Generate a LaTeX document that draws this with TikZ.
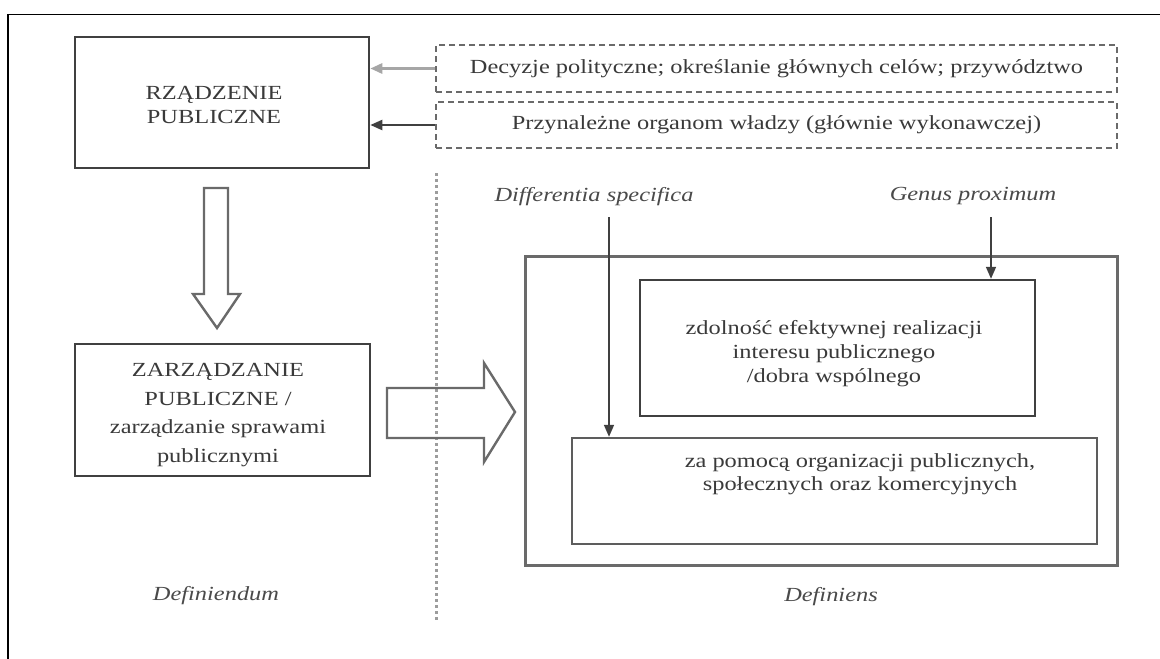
\documentclass[tikz,border=0pt]{standalone}
\usepackage{fontspec}
\setmainfont{Liberation Serif}[FakeStretch=1.22]
\usetikzlibrary{arrows.meta,calc}
\definecolor{txtgray}{HTML}{3A3A3A}
\definecolor{labgray}{HTML}{4A4A4A}
\definecolor{boxgray}{HTML}{404040}
\definecolor{midgray}{HTML}{6A6A6A}
\definecolor{dashgray}{HTML}{6A6A6A}
\definecolor{dotgray}{HTML}{9C9C9C}
\begin{document}
\begin{tikzpicture}[x=1pt,y=-1pt,
  box/.style={draw=boxgray, line width=2.6pt, inner sep=0pt, align=center, text=txtgray,
    font=\fontsize{20}{23.5}\selectfont},
  dbox/.style={draw=dashgray, line width=2.2pt, dash pattern=on 6pt off 4pt, inner sep=0pt,
    align=center, text=txtgray, font=\fontsize{20}{24}\selectfont},
  plain/.style={inner sep=0pt, align=center, text=txtgray, font=\fontsize{20}{24}\selectfont},
  lab/.style={inner sep=0pt, text=labgray, font=\fontsize{20}{24}\selectfont\itshape},
  tip/.style={-{Triangle[length=12pt,width=10pt]}},
  hollow/.style={draw=midgray, line width=2.4pt, fill=white, line join=miter}
]
\useasboundingbox (0,0) rectangle (1160,659);
\fill[white] (0,0) rectangle (1160,659);
% outer frame (top and left only)
\draw[black, line width=1.8pt] (8,659) -- (8,14.5) -- (1160,14.5);

% left column
\node[box, minimum width=294pt, minimum height=131pt] (rz) at (222,102.5) {};
\node[plain, font=\fontsize{20}{23.5}\selectfont] (rzt) at (214,105) {RZĄDZENIE\\PUBLICZNE};
\node[box, minimum width=295pt, minimum height=132pt] (za) at (222.5,410) {};
\node[plain, font=\fontsize{20}{28.5}\selectfont] (zat) at (218,415)
  {ZARZĄDZANIE\\PUBLICZNE /\\zarządzanie sprawami\\publicznymi};

% dashed boxes
\node[dbox, minimum width=681pt, minimum height=47pt] (d1) at (776.5,68.5)
  {Decyzje polityczne; określanie głównych celów; przywództwo};
\node[dbox, minimum width=681pt, minimum height=46pt] (d2) at (776.5,125)
  {Przynależne organom władzy (głównie wykonawczej)};
\draw[tip, draw=gray!70, fill=boxgray, line width=2.8pt] (d1.west) -- (d1.west -| rz.east);
\draw[tip, draw=boxgray, fill=boxgray, line width=2.2pt] (d2.west) -- (d2.west -| rz.east);

% dotted separator
\coordinate (dtop) at (436,173);
\coordinate (dbot) at (436,620);
\draw[dotgray, line width=3pt, dash pattern=on 3pt off 3pt] (dtop) -- (dbot);

% hollow down arrow
\draw[hollow] (204,188) -- (228,188) -- (228,294) -- (240,294) -- (217,328) -- (193,294) -- (204,294) -- cycle;
% hollow right arrow
\draw[hollow, fill=none] (387,388) -- (484,388) -- (484,363) -- (515,412) -- (484,462) -- (484,438) -- (387,438) -- cycle;

% definiens structure
\node[draw=midgray, line width=3pt, minimum width=592pt, minimum height=309pt, inner sep=0pt] (big) at (821,410.5) {};
\node[box, line width=2.4pt, minimum width=395pt, minimum height=136pt] (ib1) at (837.5,348) {};
\node[plain, font=\fontsize{20}{24}\selectfont] (ib1t) at (834,354)
  {zdolność efektywnej realizacji\\interesu publicznego\\/dobra wspólnego};
\node[box, draw=boxgray!85, line width=2.4pt, minimum width=525pt, minimum height=106pt] (ib2) at (834.5,491) {};
\node[plain, font=\fontsize{20}{22.5}\selectfont] (ib2t) at (860,474)
  {za pomocą organizacji publicznych,\\społecznych oraz komercyjnych};

% labels
\node[lab] (ds) at (594,197) {Differentia specifica};
\node[lab] (gp) at (973,196) {Genus proximum};
\coordinate (dsa) at (609,217);
\coordinate (gpa) at (991,217);
\draw[tip, draw=boxgray, fill=boxgray, line width=1.6pt] (dsa) -- (dsa |- ib2.north);
\draw[tip, draw=boxgray, fill=boxgray, line width=1.6pt] (gpa) -- (gpa |- ib1.north);

\node[lab] (dfd) at (216,596) {Definiendum};
\node[lab] (dfs) at (831,597) {Definiens};
\end{tikzpicture}
\end{document}
